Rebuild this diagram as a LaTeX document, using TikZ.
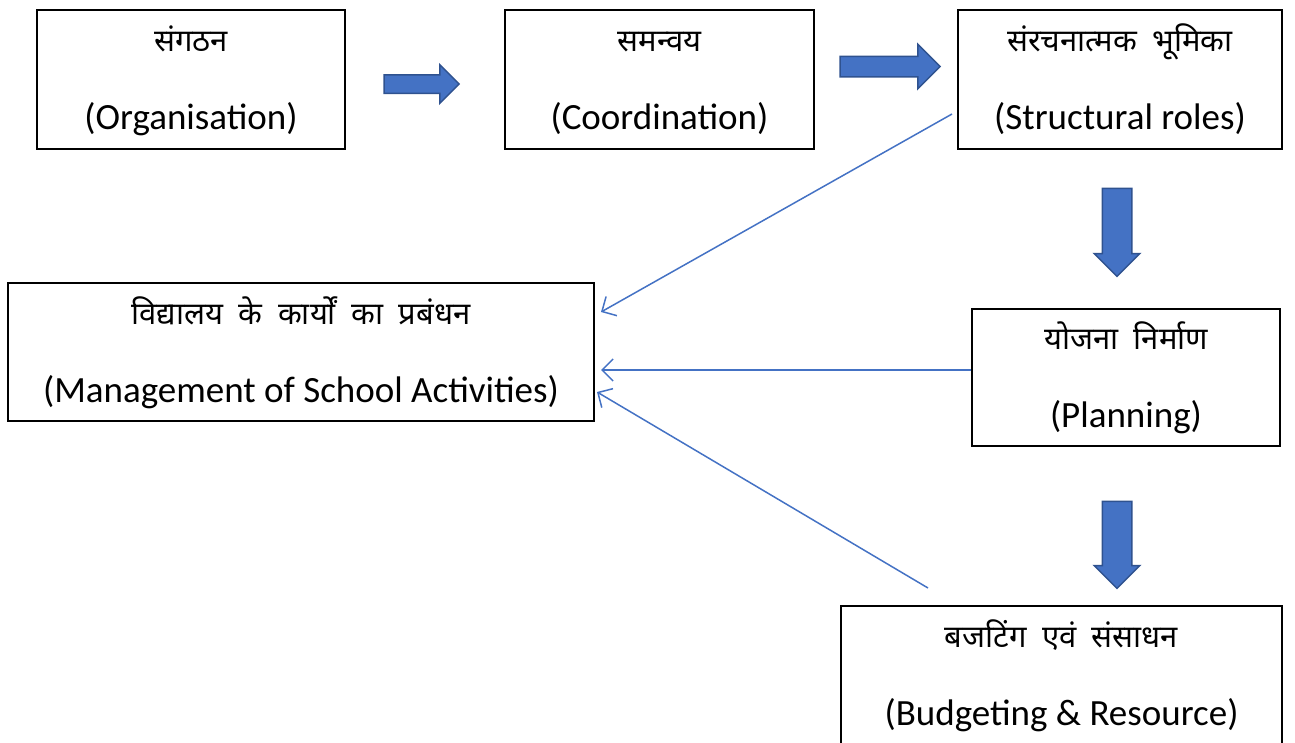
\documentclass[tikz,border=0pt]{standalone}
\usepackage{fontspec}
\setmainfont{Carlito}
\newfontfamily\hindi[Script=Devanagari]{Noto Sans}
\usepackage{tikz}
\usetikzlibrary{arrows.meta,shapes.arrows,positioning}
\definecolor{dgblue}{RGB}{68,114,196}
\definecolor{dgdarkblue}{RGB}{47,82,143}
\tikzstyle{stage} = [rectangle, draw=black, line width=2pt, minimum width=308pt, minimum height=139pt, inner sep=0pt, text height=100pt, text depth=0pt, font=\fontsize{37}{44}\selectfont]
\tikzstyle{bigarrow} = [single arrow, draw=dgdarkblue, fill=dgblue, line width=1.5pt, inner sep=8.5pt, minimum height=75pt, single arrow head extend=10pt]
\tikzstyle{link} = [line width=1.5pt, color=dgblue, -{Straight Barb[length=11pt,width=22pt]}]
\newcommand{\twolines}[2]{\begin{tabular}[b]{@{}c@{}}{\hindi\fontsize{31}{44}\selectfont #1}\\[34pt]#2\end{tabular}}

\begin{document}
\begin{tikzpicture}[x=1pt, y=-1pt]
\clip (0,0) rectangle (1295,742);
% Stages
\node (org) [stage] at (191,79.5) {\twolines{संगठन}{(Organisation)}};
\node (coord) [stage, minimum width=309pt] at (659.5,79.5) {\twolines{समन्वय}{(Coordination)}};
\node (struct) [stage, minimum width=324pt] at (1120,79.5) {\twolines{संरचनात्मक\enspace भूमिका}{(Structural roles)}};
\node (mgmt) [stage, minimum width=586pt, minimum height=138pt] at (301,352) {\twolines{विद्यालय\enspace के\enspace कार्यों\enspace का\enspace प्रबंधन}{(Management of School Activities)}};
\node (plan) [stage, minimum height=137pt] at (1126,377.5) {\twolines{योजना\enspace निर्माण}{(Planning)}};
\node (budget) [stage, minimum width=441pt] at (1061.5,675.5) {\twolines{बजटिंग\enspace एवं\enspace संसाधन}{(Budgeting \& Resource)}};

% Block arrows between stages
\node (a1) [bigarrow] at (417,84) {};
\node (a2) [bigarrow, inner sep=9.5pt, minimum height=100pt, single arrow head extend=12pt] at (885,66.5) {};
\node (a3) [bigarrow, shape border rotate=270, inner sep=14pt, minimum height=88pt, single arrow head extend=8pt] at (1117,225) {};
\node (a4) [bigarrow, shape border rotate=270, inner sep=14pt, minimum height=87pt, single arrow head extend=8pt] at (1117,537.5) {};

% Links into management
\coordinate (sfrom) at (952,114);
\coordinate (bfrom) at (928,588);
\draw [link] (sfrom) -- ([shift={(6,-40)}]mgmt.east);
\draw [link] ([shift={(0,-7.5)}]plan.west) -- ([shift={(6,18)}]mgmt.east);
\draw [link] (bfrom) -- ([shift={(2,40)}]mgmt.east);
\end{tikzpicture}
\end{document}
